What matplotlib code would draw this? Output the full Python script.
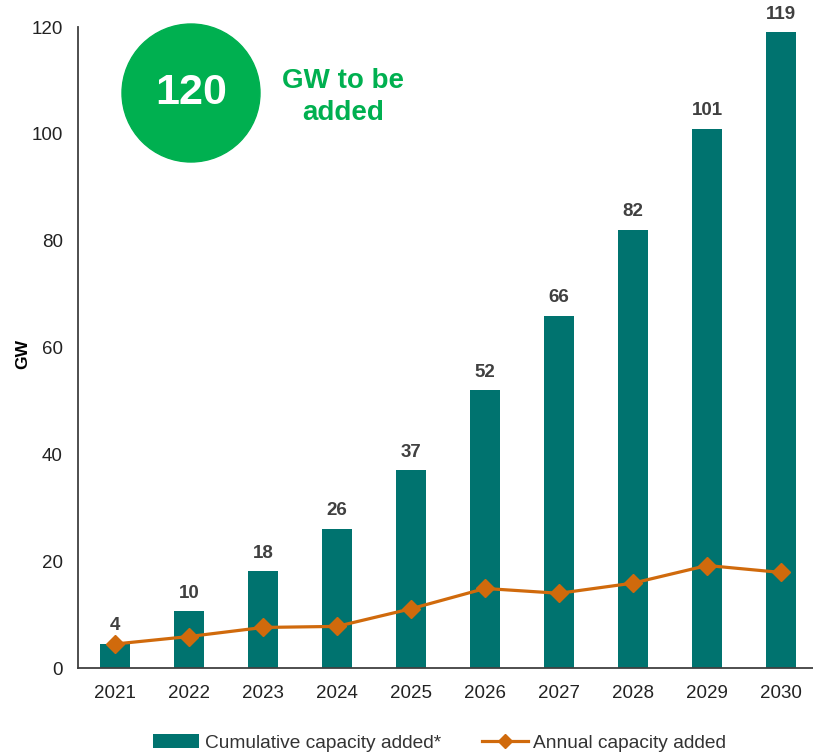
import matplotlib.pyplot as plt
from matplotlib.patches import Ellipse

plt.rcParams['font.family'] = ['Liberation Sans', 'DejaVu Sans']

years = ['2021', '2022', '2023', '2024', '2025', '2026', '2027', '2028', '2029', '2030']
cumulative = [4.5, 10.6, 18.1, 26, 37, 52, 66, 82, 101, 119]
cum_labels = ['4', '10', '18', '26', '37', '52', '66', '82', '101', '119']
annual = [4.5, 5.9, 7.6, 7.8, 11.1, 14.9, 14.0, 15.9, 19.2, 17.9]

teal = '#00736F'
orange = '#D06A0C'
green = '#00B050'
dark = '#404040'

fig = plt.figure(figsize=(8.13, 7.54), dpi=100)
ax = fig.add_axes([0.0959, 0.114, 0.904, 0.850])

x = range(len(years))
bars = ax.bar(x, cumulative, width=0.4, color=teal, label='Cumulative capacity added*', zorder=2)
line, = ax.plot(x, annual, color=orange, lw=2.3, marker='D', markersize=9,
                label='Annual capacity added', zorder=3)

for i, (v, lab) in enumerate(zip(cumulative, cum_labels)):
    ax.annotate(lab, (i, v), xytext=(0, 7), textcoords='offset points',
                ha='center', va='bottom', fontsize=13.5, fontweight='bold', color=dark)

ax.set_xlim(-0.5, 9.43)
ax.set_ylim(0, 120)
ax.set_yticks(range(0, 121, 20))
ax.set_xticks(list(x))
ax.set_xticklabels(years)
ax.tick_params(length=0, labelsize=13.5, colors='#222222')
ax.tick_params(axis='x', pad=12)
ax.tick_params(axis='y', pad=11)
ax.set_ylabel('GW', fontsize=12.5, fontweight='bold')
ax.yaxis.set_label_coords(-0.065, 0.49)

for s in ['top', 'right']:
    ax.spines[s].set_visible(False)
for s in ['left', 'bottom']:
    ax.spines[s].set_color(dark)
    ax.spines[s].set_linewidth(1.3)

# highlight bubble
fig.add_artist(Ellipse((191 / 813, 1 - 93 / 754), 138 / 813, 138 / 754,
                       transform=fig.transFigure, color=green, zorder=5))
fig.text(191 / 813, 1 - 93 / 754, '120', ha='center', va='center', color='white',
         fontsize=31, fontweight='bold', zorder=6)
fig.text(343 / 813, 1 - 97 / 754, 'GW to be\nadded', ha='center', va='center',
         color=green, fontsize=20, fontweight='bold', linespacing=1.25)

fig.legend(handles=[bars, line], loc='center', bbox_to_anchor=(0.541, 1 - 743 / 754), ncol=2,
           frameon=False, fontsize=13.8, columnspacing=2.1, handlelength=2.4,
           handletextpad=0.3, labelcolor='#333333', borderpad=0, markerscale=0.8)

fig.savefig('out.png', dpi=100)
